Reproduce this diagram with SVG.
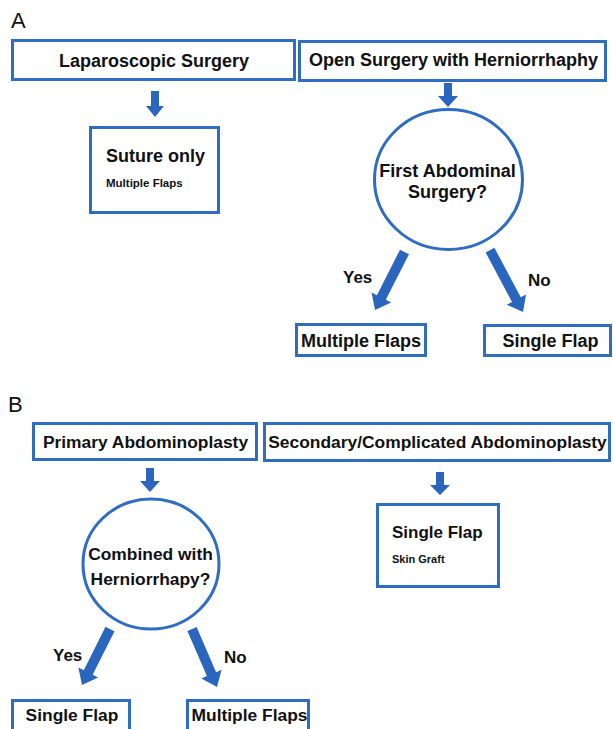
<svg xmlns="http://www.w3.org/2000/svg" width="613" height="729" viewBox="0 0 613 729">
<style>
.box{fill:#fff;stroke:#2f6dc3;stroke-width:3}
.arr{fill:#2a66bd}
.t{font-family:"Liberation Sans",Arial,sans-serif;font-weight:bold;fill:#111}
.c{text-anchor:middle}
.p{font-family:"Liberation Sans",Arial,sans-serif;font-size:22px;fill:#111}
</style>
<rect width="613" height="729" fill="#fff"/>
<text class="p" x="11" y="28">A</text>
<text class="p" x="8" y="412">B</text>
<g id="connectors">
<polygon class="arr" points="151,91 159,91 159,106 164,106 155,117 146,106 151,106"/>
<polygon class="arr" points="444,83 452,83 452,96 458,96 448,107 438,96 444,96"/>
<polygon class="arr" points="400.0,249.7 409.0,254.3 385.8,299.8 391.2,302.5 375,310 371.6,292.5 376.9,295.3"/>
<polygon class="arr" points="485.6,252.4 494.4,247.7 520.8,297.3 526.1,294.5 523,312 506.7,304.8 512.0,302.0"/>
<polygon class="arr" points="146,468 154,468 154,481 160,481 150,492 140,481 146,481"/>
<polygon class="arr" points="436,472 444,472 444,485 450,485 440,495 430,485 436,485"/>
<polygon class="arr" points="105.5,626.8 114.5,631.2 92.7,674.7 98.1,677.4 82,685 78.4,667.6 83.8,670.2"/>
<polygon class="arr" points="187.4,631.0 196.6,627.0 216.1,672.2 221.6,669.8 217,687 201.4,678.5 206.9,676.1"/>
<text class="t" x="343" y="283" font-size="17">Yes</text>
<text class="t" x="528" y="286" font-size="17">No</text>
<text class="t" x="53" y="661" font-size="17">Yes</text>
<text class="t" x="224" y="663" font-size="17">No</text>
</g>
<g id="lap">
<rect class="box" x="12.5" y="40.5" width="282" height="39"/>
<text class="t c" x="154" y="67" font-size="18">Laparoscopic Surgery</text>
</g>
<g id="open">
<rect class="box" x="299.5" y="41.5" width="306" height="39"/>
<text class="t c" x="453.5" y="66" font-size="18">Open Surgery with Herniorrhaphy</text>
</g>
<g id="suture">
<rect class="box" x="90.5" y="127.5" width="128" height="85"/>
<text class="t" x="106" y="162" font-size="18">Suture only</text>
<text class="t" x="106" y="187" font-size="11.5">Multiple Flaps</text>
</g>
<g id="first">
<ellipse class="box" cx="448.5" cy="179.5" rx="74" ry="70"/>
<text class="t c" x="447.5" y="177" font-size="18">First Abdominal</text>
<text class="t c" x="447.5" y="198" font-size="18">Surgery?</text>
</g>
<g id="multiA">
<rect class="box" x="296.5" y="324.5" width="129" height="31"/>
<text class="t c" x="361" y="347" font-size="18">Multiple Flaps</text>
</g>
<g id="singleA">
<rect class="box" x="484.5" y="325.5" width="126" height="30"/>
<text class="t c" x="550.5" y="347" font-size="18">Single Flap</text>
</g>
<g id="primary">
<rect class="box" x="33.5" y="423.5" width="223" height="36"/>
<text class="t c" x="145.5" y="448" font-size="17.4">Primary Abdominoplasty</text>
</g>
<g id="secondary">
<rect class="box" x="264.5" y="423.5" width="345" height="37"/>
<text class="t c" x="437.5" y="448" font-size="17.4">Secondary/Complicated Abdominoplasty</text>
</g>
<g id="singleSkin">
<rect class="box" x="377.5" y="504.5" width="121" height="82"/>
<text class="t" x="392" y="538" font-size="17">Single Flap</text>
<text class="t" x="392" y="563" font-size="11">Skin Graft</text>
</g>
<g id="combined">
<ellipse class="box" cx="151" cy="564" rx="68" ry="65"/>
<text class="t c" x="150.5" y="560" font-size="17.4">Combined with</text>
<text class="t c" x="150.5" y="585" font-size="17.4">Herniorrhapy?</text>
</g>
<g id="singleB">
<rect class="box" x="12.5" y="700.5" width="117" height="40"/>
<text class="t c" x="72" y="721" font-size="17.4">Single Flap</text>
</g>
<g id="multiB">
<rect class="box" x="187.5" y="700.5" width="121" height="40"/>
<text class="t c" x="249.5" y="721" font-size="17.4">Multiple Flaps</text>
</g>
</svg>
